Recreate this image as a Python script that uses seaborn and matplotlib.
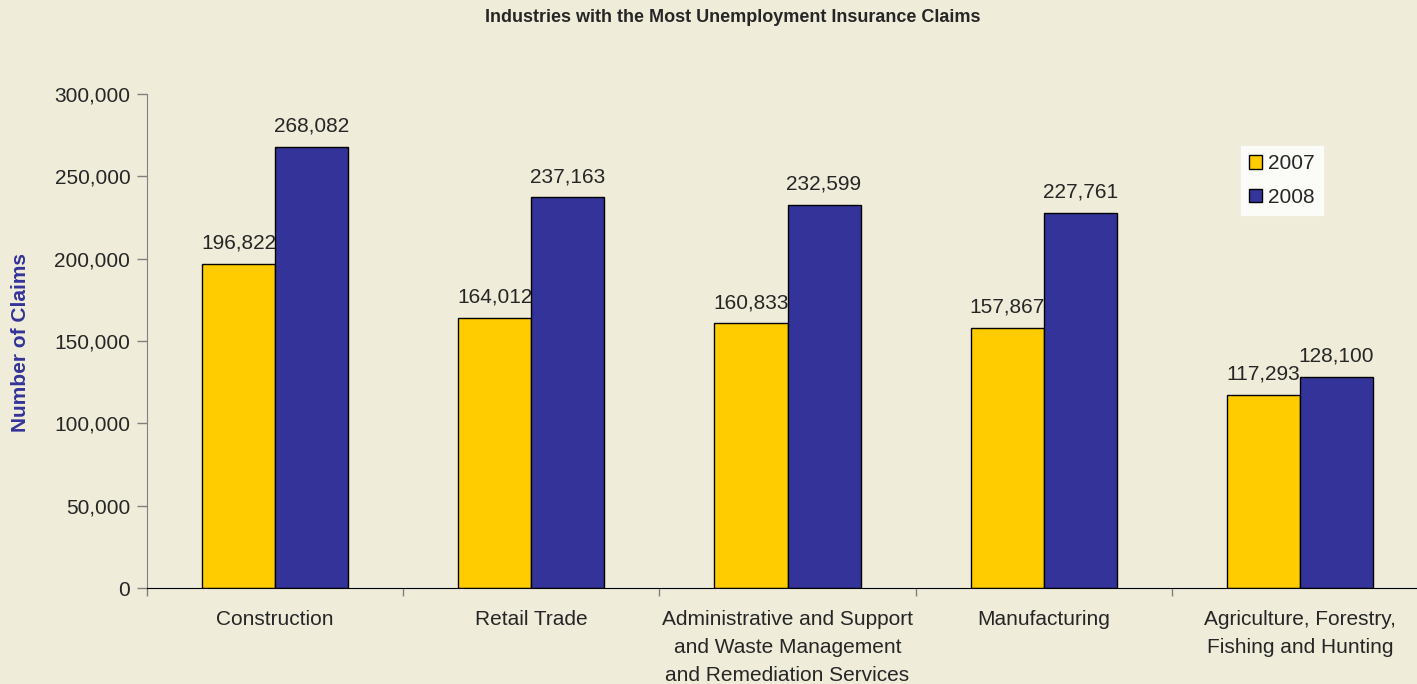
import pandas as pd
import matplotlib.pyplot as plt
import matplotlib.ticker as mticker
import seaborn as sns

industries = [
    "Construction",
    "Retail Trade",
    "Administrative and Support\nand Waste Management\nand Remediation Services",
    "Manufacturing",
    "Agriculture, Forestry,\nFishing and Hunting",
]
claims_2007 = [196822, 164012, 160833, 157867, 117293]
claims_2008 = [268082, 237163, 232599, 227761, 128100]
years = ["2007", "2008"]

df = pd.DataFrame({
    "Industry": industries * 2,
    "Year": [years[0]] * 5 + [years[1]] * 5,
    "Claims": claims_2007 + claims_2008,
})

bg = "#EFECD9"
sns.set_style("white")
plt.rcParams["font.family"] = ["Liberation Sans", "DejaVu Sans"]

fig = plt.figure(figsize=(14.17, 6.84), dpi=100, facecolor=bg)
ax = fig.add_axes([147 / 1417, 96 / 684, 1281 / 1417, 494 / 684])
ax.set_facecolor(bg)

sns.barplot(data=df, x="Industry", y="Claims", hue="Year",
            palette=["#FFCC00", "#333399"], width=0.57,
            edgecolor="black", linewidth=1, saturation=1, ax=ax)

# value labels on top of each bar
for cont in ax.containers:
    ax.bar_label(cont, labels=[f"{v:,.0f}" for v in cont.datavalues],
                 padding=8, fontsize=15)

ax.set_ylim(0, 300000)
ax.set_xlim(-0.5, 4.5)
ax.yaxis.set_major_locator(mticker.MultipleLocator(50000))
ax.yaxis.set_major_formatter(mticker.FuncFormatter(lambda v, p: f"{v:,.0f}"))
ax.tick_params(axis="y", labelsize=15, length=7, width=1, color="#808080",
               direction="out", left=True, pad=5)
ax.tick_params(axis="x", which="major", length=0, labelsize=15, pad=16)
ax.set_xticks([-0.5, 0.5, 1.5, 2.5, 3.5, 4.5], minor=True)
ax.tick_params(axis="x", which="minor", length=6, width=1, color="#808080", bottom=True)
for lbl in ax.get_xticklabels():
    lbl.set_linespacing(1.6)

for side in ["top", "right"]:
    ax.spines[side].set_visible(False)
ax.spines["left"].set_color("#808080")
ax.spines["bottom"].set_color("black")

ax.set_xlabel("")
ax.set_ylabel("")
fig.text(21 / 1417, 1 - 342 / 684, "Number of Claims", rotation=90, ha="center", va="center",
         fontsize=15, fontweight="bold", color="#333399")

fig.text(733 / 1417, 1 - 18 / 684, "Industries with the Most Unemployment Insurance Claims",
         ha="center", va="center", fontsize=13, fontweight="bold")

leg = ax.legend(title=None, loc="upper left", bbox_to_anchor=(1241 / 1417, 1 - 146 / 684),
                bbox_transform=fig.transFigure, fontsize=15, frameon=True, fancybox=False,
                handlelength=0.6, handleheight=0.6, handletextpad=0.3,
                borderpad=0.4, labelspacing=0.7, borderaxespad=0)
leg.get_frame().set_facecolor("white")
leg.get_frame().set_edgecolor("white")

fig.savefig("out.png", dpi=100, facecolor=bg)
